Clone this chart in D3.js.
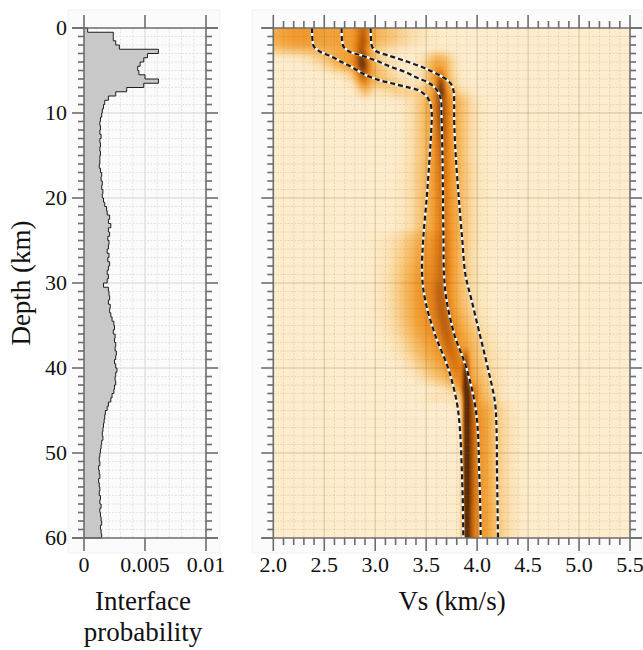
<!DOCTYPE html>
<html>
<head>
<meta charset="utf-8">
<script src="https://cdn.jsdelivr.net/npm/d3@7"></script>
<style>
  body { margin: 0; background: #fff; }
</style>
</head>
<body>
<svg id="chart" width="643" height="650"></svg>
<script>
// ---- data ----

// interface probability, one value per 0.5 km bin starting at 0 km (x 1e-3)
let probBinKm = 0.5
let probValues = [
  0.3, 2.4, 2.4, 2.6, 2.9, 6.1, 5.2, 4.9, 4.6, 4.4,
  4.5, 5.0, 6.1, 4.9, 3.5, 2.6, 2.0, 1.7, 1.6, 1.5,
  1.45, 1.35, 1.3, 1.35, 1.3, 1.4, 1.3, 1.35, 1.3, 1.35,
  1.3, 1.3, 1.25, 1.35, 1.45, 1.4, 1.5, 1.45, 1.55, 1.5,
  1.6, 1.7, 1.85, 1.9, 2.1, 2.0, 2.2, 2.0, 2.1, 1.95,
  2.05, 2.0, 1.9, 2.05, 1.95, 2.1, 2.0, 1.9, 2.0, 1.9,
  1.6, 2.0, 2.05, 2.1, 2.0, 2.15, 2.1, 2.2, 2.3, 2.45,
  2.5, 2.4, 2.55, 2.5, 2.6, 2.55, 2.65, 2.6, 2.5, 2.6,
  2.7, 2.6, 2.55, 2.6, 2.5, 2.45, 2.3, 2.2, 2.0, 1.9,
  1.75, 1.7, 1.65, 1.6, 1.55, 1.5, 1.55, 1.45, 1.4, 1.35,
  1.3, 1.25, 1.3, 1.2, 1.25, 1.3, 1.2, 1.25, 1.3, 1.25,
  1.35, 1.3, 1.4, 1.3, 1.35, 1.4, 1.45, 1.35, 1.4, 1.45
]

// dashed percentile / median profiles: [depth km, Vs km/s]
let lowerLine = [
  [0, 2.38], [1.5, 2.385], [2.2, 2.40], [2.8, 2.46], [3.4, 2.58], [4.0, 2.67], [4.6, 2.77],
  [5.5, 2.90], [6.1, 3.03], [6.5, 3.16], [6.9, 3.29], [7.3, 3.42], [8.0, 3.50], [8.8, 3.54],
  [10, 3.555], [12, 3.55], [15, 3.535], [20, 3.505], [25, 3.47], [29, 3.46], [32, 3.49],
  [36, 3.585], [40, 3.715], [44, 3.80], [47, 3.83], [52, 3.85], [56, 3.86], [60, 3.865]
]
let medianLine = [
  [0, 2.67], [1.5, 2.675], [2.2, 2.69], [2.8, 2.75], [3.2, 2.86], [3.8, 3.0], [4.5, 3.14],
  [5.2, 3.30], [5.8, 3.40], [6.5, 3.53], [7.3, 3.605], [8.5, 3.645], [10, 3.65], [15, 3.66],
  [20, 3.665], [25, 3.67], [29, 3.675], [32, 3.70], [36, 3.775], [40, 3.895], [44, 3.975],
  [47, 4.005], [52, 4.02], [56, 4.03], [60, 4.035]
]
let upperLine = [
  [0, 2.955], [1.5, 2.96], [2.2, 2.97], [2.8, 3.02], [3.2, 3.12], [3.9, 3.30], [4.6, 3.46],
  [5.2, 3.57], [5.9, 3.68], [6.6, 3.745], [7.5, 3.77], [9, 3.775], [11, 3.775], [15, 3.79],
  [20, 3.82], [25, 3.855], [29, 3.885], [32, 3.945], [36, 4.025], [40, 4.105], [44, 4.175],
  [47, 4.19], [52, 4.195], [56, 4.20], [60, 4.205]
]

// posterior Vs density, one row per km (0-1, 1-2, ...), each row a list of
// bumps [Vs centre, width, strength] read from the colour map
let heatRows = [
  [[2.20,0.32,0.38],[2.85,0.30,0.32],[2.88,0.05,0.35]],
  [[2.20,0.32,0.38],[2.85,0.30,0.32],[2.88,0.05,0.42]],
  [[2.20,0.28,0.24],[2.75,0.24,0.30],[2.87,0.05,0.48]],
  [[2.60,0.16,0.24],[2.87,0.05,0.56],[2.85,0.15,0.30],[3.62,0.09,0.28]],
  [[2.70,0.15,0.22],[2.88,0.05,0.58],[2.90,0.15,0.28],[3.62,0.09,0.40]],
  [[2.88,0.05,0.50],[2.95,0.15,0.28],[3.62,0.09,0.42],[3.64,0.03,0.25]],
  [[2.89,0.05,0.36],[3.05,0.15,0.22],[3.63,0.10,0.40],[3.645,0.035,0.50]],
  [[2.90,0.05,0.20],[3.25,0.15,0.15],[3.64,0.12,0.42],[3.645,0.04,0.55]],
  [[3.660,0.16,0.45],[3.645,0.05,0.40]],
  [[3.660,0.16,0.45],[3.645,0.05,0.42]],
  [[3.660,0.16,0.45],[3.645,0.05,0.40]],
  [[3.660,0.16,0.45],[3.648,0.05,0.37]],
  [[3.660,0.16,0.45],[3.650,0.05,0.34]],
  [[3.660,0.16,0.45],[3.650,0.05,0.31]],
  [[3.660,0.16,0.44],[3.652,0.05,0.29]],
  [[3.660,0.16,0.44],[3.652,0.05,0.27]],
  [[3.660,0.17,0.44],[3.655,0.05,0.25]],
  [[3.660,0.17,0.44],[3.655,0.05,0.24]],
  [[3.660,0.17,0.43],[3.656,0.05,0.23]],
  [[3.660,0.17,0.43],[3.657,0.05,0.22]],
  [[3.660,0.17,0.43],[3.658,0.05,0.21]],
  [[3.660,0.17,0.43],[3.659,0.05,0.21]],
  [[3.660,0.17,0.43],[3.660,0.05,0.20]],
  [[3.660,0.17,0.43],[3.661,0.05,0.20]],
  [[3.655,0.17,0.43],[3.662,0.05,0.20],[3.42,0.20,0.12]],
  [[3.650,0.17,0.43],[3.663,0.05,0.20],[3.42,0.20,0.14]],
  [[3.645,0.17,0.43],[3.664,0.05,0.20],[3.42,0.20,0.16]],
  [[3.640,0.17,0.43],[3.665,0.05,0.20],[3.42,0.20,0.17]],
  [[3.635,0.18,0.43],[3.665,0.05,0.20],[3.42,0.20,0.18]],
  [[3.630,0.18,0.43],[3.665,0.05,0.20],[3.42,0.20,0.19]],
  [[3.645,0.055,0.22],[3.63,0.18,0.43],[3.42,0.20,0.20]],
  [[3.650,0.055,0.22],[3.63,0.18,0.43],[3.42,0.20,0.20]],
  [[3.655,0.055,0.22],[3.64,0.18,0.43],[3.43,0.20,0.20]],
  [[3.665,0.055,0.22],[3.65,0.19,0.43],[3.44,0.20,0.20]],
  [[3.680,0.055,0.22],[3.67,0.19,0.43],[3.45,0.20,0.20]],
  [[3.695,0.055,0.22],[3.70,0.20,0.43],[3.46,0.20,0.19]],
  [[3.710,0.055,0.22],[3.73,0.20,0.42],[3.48,0.19,0.18]],
  [[3.730,0.055,0.22],[3.76,0.20,0.41],[3.50,0.18,0.17]],
  [[3.760,0.055,0.22],[3.89,0.022,0.35],[3.78,0.20,0.40],[3.52,0.17,0.15]],
  [[3.780,0.055,0.20],[3.89,0.022,0.50],[3.81,0.19,0.40],[3.54,0.15,0.13]],
  [[3.800,0.055,0.18],[3.89,0.022,0.64],[3.85,0.18,0.38],[3.56,0.12,0.11]],
  [[3.820,0.050,0.16],[3.89,0.022,0.76],[3.90,0.17,0.36],[3.58,0.10,0.09]],
  [[3.850,0.045,0.14],[3.89,0.022,0.88],[3.94,0.05,0.34],[3.96,0.15,0.30]],
  [[3.890,0.021,1.00],[3.94,0.04,0.44],[4.00,0.12,0.32],[3.60,0.08,0.07]],
  [[3.890,0.020,1.10],[3.94,0.035,0.48],[4.01,0.10,0.33],[4.15,0.12,0.12]],
  [[3.890,0.020,1.15],[3.94,0.035,0.50],[4.02,0.085,0.35],[4.15,0.12,0.14]],
  [[3.89,0.02,1.2],[3.94,0.035,0.5],[4.02,0.08,0.36],[4.15,0.12,0.16]],
  [[3.89,0.02,1.2],[3.94,0.035,0.5],[4.02,0.08,0.36],[4.15,0.12,0.16]],
  [[3.89,0.02,1.2],[3.94,0.035,0.5],[4.02,0.08,0.36],[4.15,0.12,0.16]],
  [[3.89,0.02,1.2],[3.94,0.035,0.5],[4.02,0.08,0.36],[4.15,0.12,0.16]],
  [[3.89,0.02,1.2],[3.94,0.035,0.5],[4.02,0.08,0.36],[4.15,0.12,0.16]],
  [[3.89,0.02,1.2],[3.94,0.035,0.5],[4.02,0.08,0.36],[4.15,0.12,0.16]],
  [[3.89,0.02,1.2],[3.94,0.035,0.5],[4.02,0.08,0.36],[4.15,0.12,0.16]],
  [[3.89,0.02,1.2],[3.94,0.035,0.5],[4.02,0.08,0.36],[4.15,0.12,0.16]],
  [[3.89,0.02,1.2],[3.94,0.035,0.5],[4.02,0.08,0.36],[4.16,0.12,0.16]],
  [[3.89,0.02,1.2],[3.94,0.035,0.5],[4.02,0.08,0.36],[4.16,0.12,0.16]],
  [[3.89,0.02,1.2],[3.94,0.035,0.5],[4.03,0.08,0.36],[4.16,0.12,0.16]],
  [[3.89,0.02,1.2],[3.94,0.035,0.5],[4.03,0.08,0.36],[4.16,0.12,0.16]],
  [[3.89,0.02,1.2],[3.94,0.035,0.5],[4.03,0.08,0.36],[4.17,0.12,0.16]],
  [[3.89,0.02,1.2],[3.94,0.035,0.5],[4.03,0.08,0.36],[4.17,0.12,0.16]]
]

let depthTicks = [0, 10, 20, 30, 40, 50, 60]
let probTicks = [0, 0.005, 0.01]
let probTickLabels = ["0", "0.005", "0.01"]
let vsTicks = [2.0, 2.5, 3.0, 3.5, 4.0, 4.5, 5.0, 5.5]

let heatStops = [0, 0.1, 0.2, 0.35, 0.5, 0.65, 0.8, 1]
let heatColors = ["#fdeccd", "#fbd9a0", "#f8c270", "#f4a53c", "#ee8c1e", "#d9720e", "#a8530a", "#5a2a06"]

// ---- scales ----
let svg = d3.select("#chart")
let serif = "'Liberation Serif', 'Times New Roman', Times, serif"
let y = d3.scaleLinear().domain([0, 60]).range([28, 538])
let xP = d3.scaleLinear().domain([0, 0.01]).range([84, 206])
let xV = d3.scaleLinear().domain([2, 5.5]).range([273.3, 630])
let heatColor = d3.scaleLinear().domain(heatStops).range(heatColors).clamp(true)

let axisGrey = "#6d6d6d"

// faint panel backgrounds
svg.append("rect").attr("x", 68).attr("y", 10).attr("width", 152).attr("height", 543)
  .attr("fill", "#fbfbfb").attr("stroke", "#f1f1f1")
svg.append("rect").attr("x", 252).attr("y", 10).attr("width", 390).attr("height", 543)
  .attr("fill", "#fbfbfb").attr("stroke", "#f1f1f1")

let defs = svg.append("defs")
defs.append("clipPath").attr("id", "heatClip").append("rect")
  .attr("x", xV(2)).attr("y", y(0)).attr("width", xV(5.5) - xV(2)).attr("height", y(60) - y(0))
defs.append("filter").attr("id", "soft")
  .attr("x", "-3%").attr("y", "-3%").attr("width", "106%").attr("height", "106%")
  .attr("color-interpolation-filters", "sRGB")
  .append("feGaussianBlur").attr("stdDeviation", "1 3.6")

// ---- left panel: interface probability ----
let left = svg.append("g")

function gridLines (g, xs, ys, x0, x1, y0, y1, minorColor, majorColor, isMajorX, isMajorY) {
  g.selectAll(".gx").data(xs).enter().append("line")
    .attr("x1", d => d.x).attr("x2", d => d.x).attr("y1", y0).attr("y2", y1)
    .attr("stroke", d => isMajorX(d.v) ? majorColor : minorColor)
    .attr("stroke-dasharray", d => isMajorX(d.v) ? null : "2,1.5")
    .attr("stroke-width", 1)
  g.selectAll(".gy").data(ys).enter().append("line")
    .attr("y1", d => d.y).attr("y2", d => d.y).attr("x1", x0).attr("x2", x1)
    .attr("stroke", d => isMajorY(d.v) ? majorColor : minorColor)
    .attr("stroke-dasharray", d => isMajorY(d.v) ? null : "2,1.5")
    .attr("stroke-width", 1)
}

let depthGrid = d3.range(1, 60).map(v => ({ v, y: y(v) }))

gridLines(left.append("g"),
  d3.range(1, 10).map(v => ({ v, x: xP(v / 1000) })), depthGrid,
  xP(0), xP(0.01), y(0), y(60), "#e2e2e2", "#d4d4d4",
  v => v === 5, v => v % 10 === 0)

let probPts = []
probValues.forEach((p, i) => {
  probPts.push({ d: i * probBinKm, p: p / 1000 })
  probPts.push({ d: (i + 1) * probBinKm, p: p / 1000 })
})

left.append("path").datum(probPts)
  .attr("d", d3.area().x0(xP(0)).x1(d => xP(d.p)).y(d => y(d.d)))
  .attr("fill", "#c8c8c8")

left.append("path").datum([{ d: 0, p: 0 }].concat(probPts, [{ d: 60, p: 0 }]))
  .attr("d", d3.line().x(d => xP(d.p)).y(d => y(d.d)))
  .attr("fill", "none").attr("stroke", "#1e1e1e").attr("stroke-width", 1)

// ---- right panel: Vs heat map ----
let right = svg.append("g")
right.append("rect").attr("x", xV(2)).attr("y", y(0))
  .attr("width", xV(5.5) - xV(2)).attr("height", y(60) - y(0)).attr("fill", heatColors[0])

let vsStep = 0.02
let vsCols = d3.range(1.9, 5.6, vsStep)
let cells = []
heatRows.forEach((row, i) => {
  vsCols.forEach(v => {
    let val = d3.sum(row, b => b[2] * Math.exp(-0.5 * Math.pow((v - b[0]) / b[1], 2)))
    cells.push({ d: i, v, val })
  })
})

let rowTop = d => d === 0 ? y(-2) : y(d)
let rowBottom = d => d === heatRows.length - 1 ? y(62) : y(d + 1) + 0.4

right.append("g").attr("clip-path", "url(#heatClip)")
  .append("g").attr("filter", "url(#soft)")
  .selectAll("rect").data(cells).enter().append("rect")
    .attr("x", d => xV(d.v - vsStep / 2))
    .attr("width", xV(vsStep) - xV(0) + 0.4)
    .attr("y", d => rowTop(d.d))
    .attr("height", d => rowBottom(d.d) - rowTop(d.d))
    .attr("fill", d => heatColor(d.val))

gridLines(right.append("g"),
  d3.range(21, 55).map(k => ({ v: k, x: xV(k / 10) })), depthGrid,
  xV(2), xV(5.5), y(0), y(60), "rgba(140,110,70,0.18)", "rgba(120,95,60,0.3)",
  v => v % 5 === 0, v => v % 10 === 0)

// dashed profiles: white underlay, black dashes
let profile = d3.line().x(d => xV(d[1])).y(d => y(d[0])).curve(d3.curveCatmullRom.alpha(0.5))
let profiles = [lowerLine, medianLine, upperLine]
right.selectAll(".under").data(profiles).enter().append("path")
  .attr("d", profile).attr("fill", "none").attr("stroke", "#fff").attr("stroke-width", 2.4)
right.selectAll(".dash").data(profiles).enter().append("path")
  .attr("d", profile).attr("fill", "none").attr("stroke", "#1a1a1a")
  .attr("stroke-width", 2.2).attr("stroke-dasharray", "5,3")

// ---- frames and ticks ----
function frame (x0, x1, majorX, minorX, majorY, minorY) {
  let g = svg.append("g").attr("stroke", axisGrey).attr("stroke-width", 1.6)
  let big = 12, small = 6
  // frame lines, stretched out by the major tick length
  g.append("line").attr("x1", x0 - big).attr("x2", x1 + big).attr("y1", y(0)).attr("y2", y(0))
  g.append("line").attr("x1", x0 - big).attr("x2", x1 + big).attr("y1", y(60)).attr("y2", y(60))
  g.append("line").attr("x1", x0).attr("x2", x0).attr("y1", y(0)).attr("y2", y(60))
  g.append("line").attr("x1", x1).attr("x2", x1).attr("y1", y(0)).attr("y2", y(60))

  let xt = majorX.map(x => ({ x, len: big })).concat(minorX.map(x => ({ x, len: small })))
  g.selectAll(".tt").data(xt).enter().append("line")
    .attr("x1", d => d.x).attr("x2", d => d.x).attr("y1", y(0)).attr("y2", d => y(0) - d.len - 1)
  g.selectAll(".tb").data(xt).enter().append("line")
    .attr("x1", d => d.x).attr("x2", d => d.x).attr("y1", y(60)).attr("y2", d => y(60) + d.len + 1)

  let yt = majorY.map(v => ({ y: y(v), len: big })).concat(minorY.map(v => ({ y: y(v), len: small })))
  g.selectAll(".tl").data(yt).enter().append("line")
    .attr("y1", d => d.y).attr("y2", d => d.y).attr("x1", x0).attr("x2", d => x0 - d.len)
  g.selectAll(".tr").data(yt).enter().append("line")
    .attr("y1", d => d.y).attr("y2", d => d.y).attr("x1", x1).attr("x2", d => x1 + d.len)
}

let minorDepths = d3.range(1, 60).filter(v => v % 10 !== 0)
frame(xP(0), xP(0.01), probTicks.map(xP), [], depthTicks, minorDepths)
frame(xV(2), xV(5.5), vsTicks.map(xV),
  d3.range(21, 55).filter(k => k % 5 !== 0).map(k => xV(k / 10)), depthTicks, minorDepths)

// ---- labels ----
let txt = svg.append("g").attr("font-family", serif).attr("fill", "#111")

txt.selectAll(".ylab").data(depthTicks).enter().append("text")
  .attr("x", 67).attr("y", d => y(d)).attr("dy", "0.34em")
  .attr("text-anchor", "end").attr("font-size", 22).text(d => d)

txt.selectAll(".plab").data(probTicks).enter().append("text")
  .attr("x", d => xP(d)).attr("y", 572).attr("text-anchor", "middle")
  .attr("font-size", 22).text((d, i) => probTickLabels[i])

txt.selectAll(".vlab").data(vsTicks).enter().append("text")
  .attr("x", d => xV(d)).attr("y", 572).attr("text-anchor", "middle")
  .attr("font-size", 22).text(d => d.toFixed(1))

txt.append("text").attr("transform", "translate(30,283) rotate(-90)")
  .attr("text-anchor", "middle").attr("font-size", 27).text("Depth (km)")

txt.append("text").attr("x", 143).attr("y", 610).attr("text-anchor", "middle")
  .attr("font-size", 27).text("Interface")
txt.append("text").attr("x", 143).attr("y", 641).attr("text-anchor", "middle")
  .attr("font-size", 27).text("probability")

txt.append("text").attr("x", 452).attr("y", 610).attr("text-anchor", "middle")
  .attr("font-size", 27).text("Vs (km/s)")
</script>
</body>
</html>
